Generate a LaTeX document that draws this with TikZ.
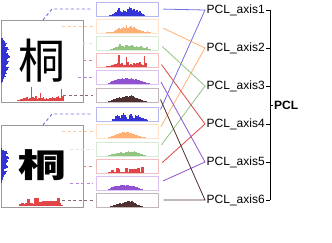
\documentclass[tikz,border=0pt]{standalone}
\usepackage{fontspec}
\setmainfont{Liberation Sans}
\newfontfamily\cjk{Noto Sans CJK SC}
\usepackage{tikz}
\usetikzlibrary{positioning, calc}
\usepackage{xcolor}
\definecolor{pblue}{HTML}{3333D6}
\definecolor{porange}{HTML}{FFB074}
\definecolor{pgreen}{HTML}{92C484}
\definecolor{pgreenlt}{HTML}{C6E0BC}
\definecolor{pred}{HTML}{E04646}
\definecolor{ppurple}{HTML}{9152D2}
\definecolor{pbrown}{HTML}{4F3030}
\definecolor{frame}{HTML}{9A9A9A}

% bars standing on a base line: colour, x0, ybase, heights
\newcommand{\histbars}[4]{%
  \foreach \h [count=\i from 0] in {#4}
    \fill[#1] ({#2+1.5*\i},#3) rectangle ++(1.6,-\h);}
% bars growing from the left edge: colour, x0, ytop, widths
\newcommand{\sidebars}[4]{%
  \foreach \w [count=\i from 0] in {#4}
    \fill[#1] (#2,{#3+1.5*\i}) rectangle ++(\w,1.6);}

\begin{document}
\begin{tikzpicture}[
    x=1pt, y=-1pt,
    font=\fontsize{12}{14}\selectfont,
    img/.style={
        rectangle, draw=frame, line width=1pt,
        minimum width=82pt, minimum height=82pt, inner sep=0pt
    },
    histbox/.style={
        rectangle, draw=#1!35, line width=1pt, fill=white,
        minimum width=62pt, minimum height=14pt, inner sep=0pt
    },
    axlab/.style={anchor=west, inner sep=1.5pt},
    feed/.style={dashed, dash pattern=on 3pt off 2.5pt, line width=0.9pt, #1!70, shorten >=3pt},
    link/.style={line width=0.8pt, #1, shorten <=5pt, shorten >=5pt},
]
\useasboundingbox (0,0) rectangle (332,242);

% ── Character images ──────
\node[img] (img1) at (42,61) {};
\node[img] (img2) at (42,166) {};
\node at (42,61) {\cjk\fontsize{47}{47}\selectfont 桐};
\node at (43,165) {\scalebox{1}[0.68]{\cjk\bfseries\fontsize{48}{48}\selectfont 桐}};

\sidebars{pblue}{1}{38}{2,3,4,6,5,4,7,8,6,5,7,8,9,7,6,8,7,6,5,8,7,6,5,6,4,5,3,2,2,1}
\histbars{pred}{17}{101}{1,1,2,2,3,3,4,2,3,14,4,3,5,2,3,8,3,4,2,3,2,3,3,4,3,3,4,5,3,12,5}
\sidebars{pblue}{1}{148}{1,3,6,7,5,7,8,6,7,6,5,6,7,5,3,6,5,4,3,2,2,1,1}
\histbars{pred}{19}{206}{2,3,3,2,3,7,7,3,3,2,8,8,8,4,4,5,5,5,5,5,5,5,5,5,5,8,8,3,1}

% ── Projection profiles ──────
\node[histbox=pblue]   (h1)  at (127,9)    {};
\node[histbox=porange] (h2)  at (127,26)   {};
\node[histbox=pgreen]  (h3)  at (127,43)   {};
\node[histbox=pred]    (h4)  at (127,60.5) {};
\node[histbox=ppurple] (h5)  at (127,77.5) {};
\node[histbox=pbrown]  (h6)  at (127,95)   {};
\node[histbox=pblue]   (h7)  at (127,114)  {};
\node[histbox=porange] (h8)  at (127,131)  {};
\node[histbox=pgreen]  (h9)  at (127,149)  {};
\node[histbox=pred]    (h10) at (127,166)  {};
\node[histbox=ppurple] (h11) at (127,183)  {};
\node[histbox=pbrown]  (h12) at (127,200)  {};

\histbars{pblue}{109}{15.5}{1,1,2,3,4,6,8,5,4,6,5,4,7,9,8,6,7,5,6,4,5,3,2,1}
\histbars{porange}{106}{32.5}{1,1,1,1,1,2,3,4,5,4,5,6,5,8,5,6,7,5,6,5,4,3,3,2,2,1,1,2,1,1}
\histbars{pgreen}{110}{49.5}{1,1,2,3,3,4,6,4,4,3,5,5,4,4,5,4,3,4,3,3,4,3,2,2,3,1,1}
\histbars{pred}{106}{67}{1,1,1,2,2,3,3,4,12,3,4,2,2,10,5,2,3,2,4,3,4,4,5,3,2,11,4}
\histbars{ppurple}{108}{84}{1,2,3,3,4,4,5,5,5,6,5,6,6,5,5,6,5,4,5,4,4,3,3,2,2,1,1,1}
\histbars{pbrown}{108}{101.5}{1,1,2,3,3,4,4,5,4,5,5,6,6,5,6,7,6,5,4,4,3,3,2,1,1,1}
\histbars{pblue}{112}{120.5}{2,2,5,6,5,3,6,8,6,4,2,6,7,5,3,6,5,6,4,3,3,2,2,1}
\histbars{porange}{108}{137.5}{1,1,2,2,3,4,4,5,5,6,6,5,6,6,5,5,4,4,3,3,2,2,1,1,1}
\histbars{pgreen}{108}{155.5}{1,1,2,2,2,3,3,3,4,3,3,4,4,5,4,4,4,5,4,3,3,2,2,1,1}
\histbars{pred}{108}{172.5}{1,1,3,3,1,5,5,4,1,1,1,5,5,1,4,4,4,4,4,5,5,1,6,6}
\histbars{ppurple}{108}{189.5}{1,2,3,3,4,4,4,4,5,5,5,4,5,5,4,4,4,4,3,3,2,1,1}
\histbars{pbrown}{110}{206.5}{1,1,2,2,3,3,4,3,4,5,5,6,6,5,6,5,4,3,2,2,1,1}

% ── Image to profile ──────
\coordinate (p1)  at (43,20);
\coordinate (p2)  at (62,26);
\coordinate (p3)  at (83,43);
\coordinate (p4)  at (83,60.5);
\coordinate (p5)  at (78,77.5);
\coordinate (p6)  at (63,95);
\coordinate (p7)  at (43,125);
\coordinate (p8)  at (62,131);
\coordinate (p9)  at (70,149);
\coordinate (p10) at (83,166);
\coordinate (p11) at (70,183);
\coordinate (p12) at (62,200);

\draw[feed=pblue]    (p1) -- ++(9,-11) -- (h1.west);
\draw[feed=porange]  (p2) -- (h2.west);
\draw[feed=pgreenlt] (p3) -- (h3.west);
\draw[feed=pred]     (p4) -- (h4.west);
\draw[feed=ppurple]  (p5) -- (h5.west);
\draw[feed=pbrown]   (p6) -- (h6.west);
\draw[feed=pblue]    (p7) -- ++(9,-11) -- (h7.west);
\draw[feed=porange]  (p8) -- (h8.west);
\draw[feed=pgreenlt] (p9) -- (h9.west);
\draw[feed=pred]     (p10) -- (h10.west);
\draw[feed=ppurple]  (p11) -- (h11.west);
\draw[feed=pbrown]   (p12) -- (h12.west);

% ── PCL axes ──────
\node[axlab] (ax1) at (205,10)  {PCL\_axis1};
\node[axlab] (ax2) at (205,48)  {PCL\_axis2};
\node[axlab] (ax3) at (205,86)  {PCL\_axis3};
\node[axlab] (ax4) at (205,124) {PCL\_axis4};
\node[axlab] (ax5) at (205,162) {PCL\_axis5};
\node[axlab] (ax6) at (205,200) {PCL\_axis6};

\draw[link=pblue!70]   (h1.east)  -- (ax1.west) -- (h7.east);
\draw[link=porange] (h2.east)  -- (ax2.west) -- (h8.east);
\draw[link=pgreen]  (h3.east)  -- (ax3.west) -- (h9.east);
\draw[link=pred]    (h4.east)  -- (ax4.west) -- (h10.east);
\draw[link=ppurple] (h5.east)  -- (ax5.west) -- (h11.east);
\draw[link=pbrown]  (h6.east)  -- (ax6.west) -- (h12.east);

% ── Bracket ──────
\coordinate (br) at (270,0);
\node[anchor=west, inner sep=1pt, font=\fontsize{12}{14}\selectfont\bfseries] (pcl) at (273,105) {PCL};
\draw[line width=0.8pt] (ax1.east -| br) -- (ax6.east -| br);
\foreach \a in {ax1,ax2,ax3,ax4,ax5,ax6}
  \draw[line width=0.8pt] (\a.east) -- (\a.east -| br);
\draw[line width=0.8pt] (pcl.west) -- (pcl.west -| br);

\end{tikzpicture}
\end{document}
